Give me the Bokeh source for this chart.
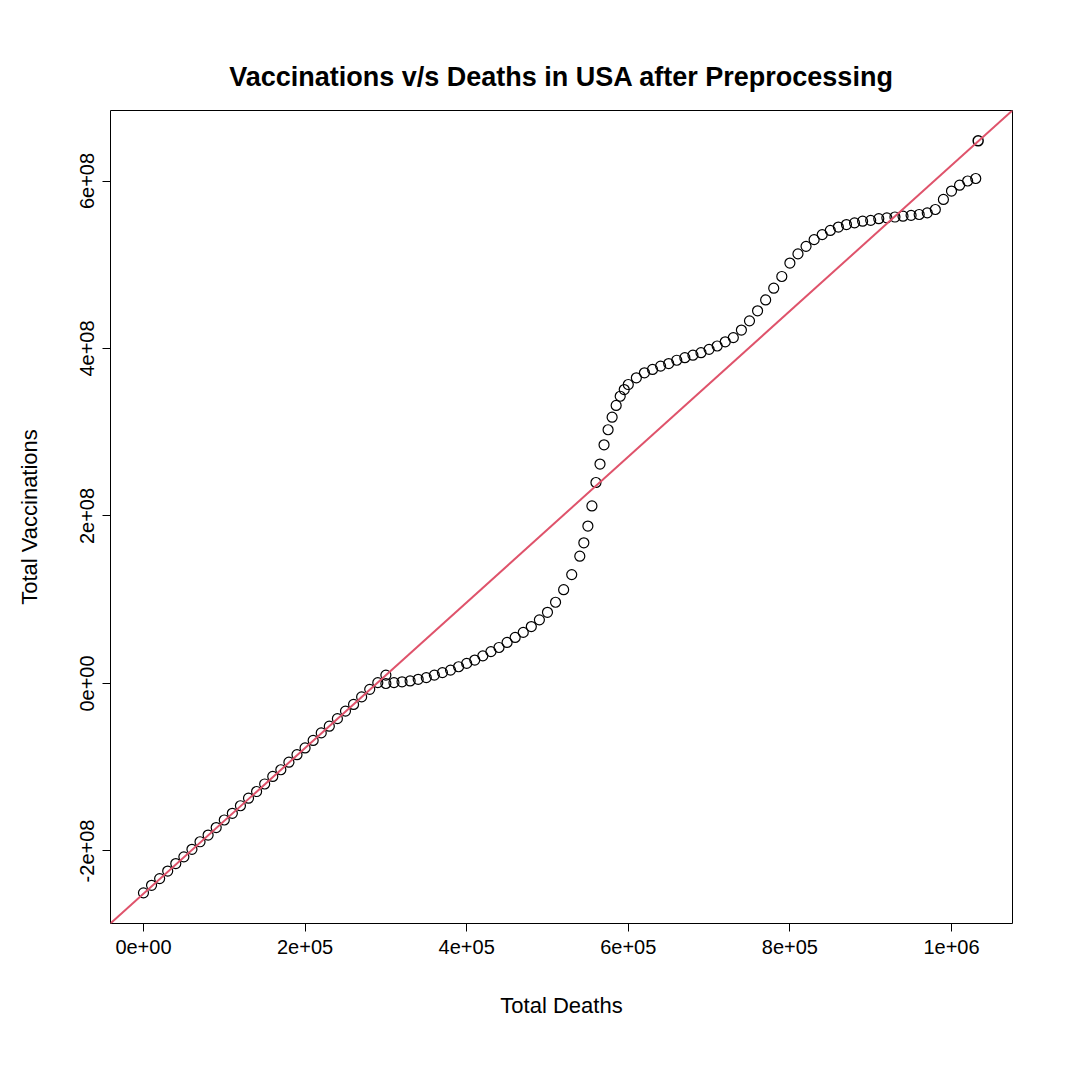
from bokeh.plotting import figure
from bokeh.models import Slope, FixedTicker, Range1d
from bokeh.embed import file_html
from bokeh.resources import INLINE

# Linear early segment (deaths, vaccinations)
deaths_a = [0, 10000, 20000, 30000, 40000, 50000, 60000, 70000, 80000, 90000,
            100000, 110000, 120000, 130000, 140000, 150000, 160000, 170000, 180000, 190000,
            200000, 210000, 220000, 230000, 240000, 250000, 260000, 270000, 280000, 290000, 300000]
vacc_a = [-2.50e8, -2.41e8, -2.33e8, -2.24e8, -2.15e8, -2.07e8, -1.98e8, -1.89e8, -1.81e8, -1.72e8,
          -1.63e8, -1.55e8, -1.46e8, -1.37e8, -1.29e8, -1.20e8, -1.11e8, -1.03e8, -0.94e8, -0.85e8,
          -0.77e8, -0.68e8, -0.59e8, -0.51e8, -0.42e8, -0.33e8, -0.25e8, -0.16e8, -0.07e8, 0.01e8, 0.10e8]
# Curved later segment
deaths_b = [300000, 310000, 320000, 330000, 340000, 350000, 360000, 370000, 380000, 390000,
            400000, 410000, 420000, 430000, 440000, 450000, 460000, 470000, 480000, 490000,
            500000, 510000, 520000, 530000, 540000, 545000, 550000, 555000, 560000, 565000,
            570000, 575000, 580000, 585000, 590000, 595000, 600000, 610000, 620000, 630000,
            640000, 650000, 660000, 670000, 680000, 690000, 700000, 710000, 720000, 730000,
            740000, 750000, 760000, 770000, 780000, 790000, 800000, 810000, 820000, 830000,
            840000, 850000, 860000, 870000, 880000, 890000, 900000, 910000, 920000, 930000,
            940000, 950000, 960000, 970000, 980000, 990000, 1000000, 1010000, 1020000, 1030000]
vacc_b = [0.00e8, 0.01e8, 0.02e8, 0.03e8, 0.05e8, 0.07e8, 0.10e8, 0.13e8, 0.16e8, 0.20e8,
          0.24e8, 0.28e8, 0.33e8, 0.38e8, 0.43e8, 0.49e8, 0.55e8, 0.61e8, 0.68e8, 0.76e8,
          0.85e8, 0.97e8, 1.12e8, 1.30e8, 1.52e8, 1.68e8, 1.88e8, 2.12e8, 2.40e8, 2.62e8,
          2.85e8, 3.03e8, 3.18e8, 3.32e8, 3.43e8, 3.51e8, 3.57e8, 3.65e8, 3.71e8, 3.75e8,
          3.79e8, 3.82e8, 3.86e8, 3.89e8, 3.92e8, 3.95e8, 3.99e8, 4.03e8, 4.08e8, 4.13e8,
          4.22e8, 4.33e8, 4.45e8, 4.58e8, 4.72e8, 4.86e8, 5.02e8, 5.13e8, 5.22e8, 5.30e8,
          5.36e8, 5.41e8, 5.45e8, 5.48e8, 5.50e8, 5.52e8, 5.53e8, 5.55e8, 5.56e8, 5.57e8,
          5.58e8, 5.59e8, 5.60e8, 5.62e8, 5.66e8, 5.78e8, 5.88e8, 5.95e8, 6.00e8, 6.03e8]
outlier_x = [1033000]
outlier_y = [6.48e8]

fit_slope = 869.7
fit_intercept = -2.51e8

x_ticks = [0, 200000, 400000, 600000, 800000, 1000000]
x_labels = ["0e+00", "2e+05", "4e+05", "6e+05", "8e+05", "1e+06"]
y_ticks = [-2e8, 0, 2e8, 4e8, 6e8]
y_labels = ["-2e+08", "0e+00", "2e+08", "4e+08", "6e+08"]

p = figure(width=1064, height=1064, output_backend="svg", toolbar_location=None,
           x_range=Range1d(-40800, 1075500), y_range=Range1d(-2.866e8, 6.842e8),
           title="Vaccinations v/s Deaths in USA after Preprocessing",
           min_border_left=110, min_border_right=52, min_border_top=110, min_border_bottom=141)
p.title.align = "center"
p.title.text_font = "Liberation Sans"
p.title.text_font_size = "27px"
p.title.text_font_style = "bold"
p.title.text_color = "black"
p.title.standoff = 38
p.grid.visible = False
p.outline_line_color = "black"
p.outline_line_width = 1
p.background_fill_color = "white"
p.border_fill_color = "white"

for ax in (p.xaxis[0], p.yaxis[0]):
    ax.axis_line_color = None
    ax.minor_tick_line_color = None
    ax.major_tick_out = 8
    ax.major_tick_in = 0
    ax.major_label_text_font = "Liberation Sans"
    ax.major_label_text_font_size = "20px"
    ax.major_label_text_color = "black"
    ax.axis_label_text_font = "Liberation Sans"
    ax.axis_label_text_font_size = "22px"
    ax.axis_label_text_font_style = "normal"
    ax.axis_label_text_color = "black"
    ax.major_label_standoff = 8

p.xaxis.ticker = FixedTicker(ticks=x_ticks)
p.xaxis.major_label_overrides = dict(zip(x_ticks, x_labels))
p.yaxis.ticker = FixedTicker(ticks=y_ticks)
p.yaxis.major_label_overrides = dict(zip(y_ticks, y_labels))
p.yaxis.major_label_orientation = "vertical"
p.xaxis.axis_label = "Total Deaths"
p.yaxis.axis_label = "Total Vaccinations"
p.xaxis.axis_label_standoff = 36
p.yaxis.axis_label_standoff = 36

p.scatter(deaths_a, vacc_a, marker="circle", size=10, fill_color=None, line_color="black", line_width=1.2)
p.scatter(deaths_b, vacc_b, marker="circle", size=10, fill_color=None, line_color="black", line_width=1.2)
p.scatter(outlier_x, outlier_y, marker="circle", size=10, fill_color=None, line_color="black", line_width=1.5)
p.add_layout(Slope(gradient=fit_slope, y_intercept=fit_intercept, line_color="#DF536B", line_width=2))

open("out.html", "w").write(file_html(p, INLINE))
